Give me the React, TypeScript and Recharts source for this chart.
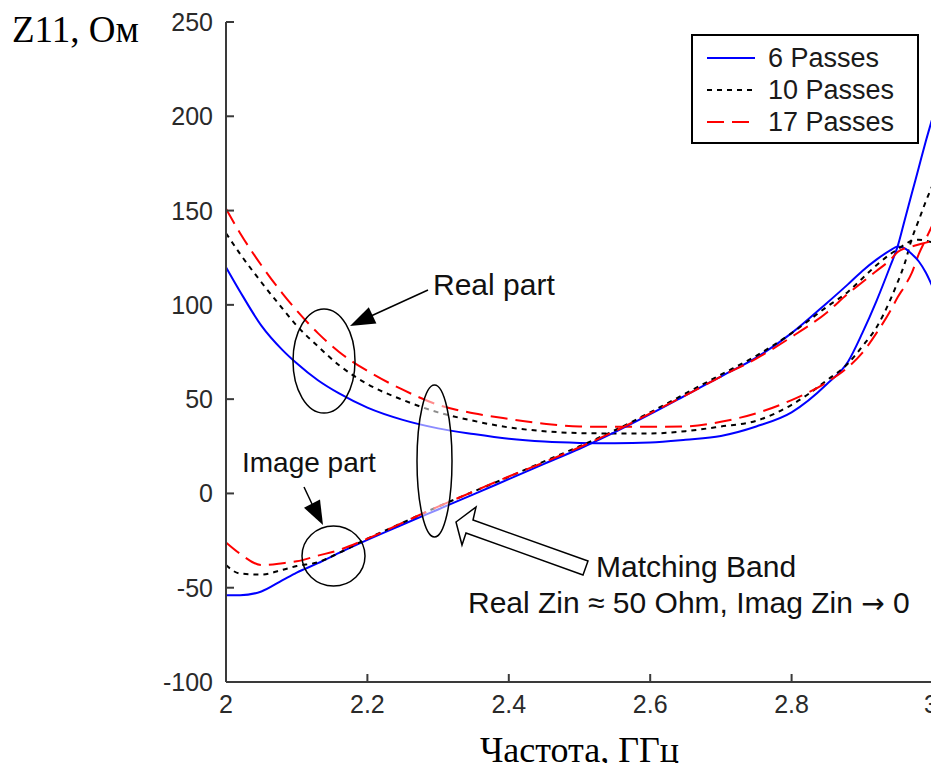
import React from 'react';
import { LineChart, Line, XAxis, YAxis, Legend } from 'recharts';

// frequency grid, GHz
const FREQ = [
  2.0, 2.02, 2.05, 2.08, 2.1, 2.13, 2.16, 2.2, 2.25, 2.3, 2.35, 2.4, 2.45, 2.5, 2.55, 2.6,
  2.65, 2.7, 2.75, 2.8, 2.85, 2.88, 2.9, 2.92, 2.94, 2.95, 2.96, 2.97, 2.98, 2.99, 3.0,
];

// real part of Z11
const REAL_6 = [
  120, 107, 89, 76, 69, 60, 53, 45.5, 39, 34.5, 31.5, 29, 27.5, 26.8, 26.6, 27,
  28.5, 30.5, 35.5, 43, 58, 70, 85, 102, 121, 131, 145, 159, 173, 187, 200,
];
const REAL_10 = [
  138, 127, 112, 98, 89, 78, 68, 58, 49.6, 43, 38.5, 35, 33, 32, 31.8, 31.8,
  33, 35.5, 38.5, 47, 60, 69, 78, 88, 103, 112, 122, 135, 145, 155, 164,
];
const REAL_17 = [
  151, 138, 121, 106, 97, 85, 75, 65, 55, 47, 42.5, 39.5, 37, 35.5, 35.3, 35.3,
  35.5, 38, 42.5, 49.5, 59, 67, 74.5, 85, 97, 104, 110, 117, 127, 135, 143,
];

// imaginary part of Z11
const IMAG_6 = [
  -54, -54, -52, -46, -42, -37, -31.5, -24.6, -16.5, -8.5, -0.5, 7.6, 15.7, 23.7, 32.5, 42,
  52, 62, 72, 85, 101, 111, 118, 124, 129, 131, 130, 127, 123, 117, 109,
];
const IMAG_10 = [
  -38, -42.5, -43, -40.5, -38.5, -36.5, -31.5, -24, -15.5, -7, 1, 8.8, 17, 25, 33.5, 43,
  53, 63, 73, 85, 99, 107, 114, 121, 127, 129.5, 132, 134, 134.5, 134, 133,
];
const IMAG_17 = [
  -26, -32, -38, -37, -36, -33, -30, -24, -15.5, -7, 1, 9, 16.5, 24.5, 33, 42.5,
  52, 62, 71.5, 83, 96, 106, 112, 118, 124, 128, 130, 131, 132, 133, 134,
];

const X_TICKS = [2, 2.2, 2.4, 2.6, 2.8, 3];
const Y_TICKS = [-100, -50, 0, 50, 100, 150, 200, 250];
const LEGEND_ORDER = ['6 Passes', '10 Passes', '17 Passes'];

const data = FREQ.map((f, i) => ({
  f,
  r6: REAL_6[i],
  r10: REAL_10[i],
  r17: REAL_17[i],
  i6: IMAG_6[i],
  i10: IMAG_10[i],
  i17: IMAG_17[i],
}));

const SANS = '"Liberation Sans", Arial, Helvetica, sans-serif';
const SERIF = '"Liberation Serif", "Times New Roman", serif';
const AXIS = '#3a3a3a';
const TICK_TEXT = '#2a2a2a';

const BLUE = '#0000ff';
const BLACK = '#000000';
const RED = '#ff0000';
const DASH_10 = '5 5';
const DASH_17 = '17 8';

const DASH_BY_NAME: Record<string, string | undefined> = {
  '6 Passes': undefined,
  '10 Passes': DASH_10,
  '17 Passes': DASH_17,
};

const YTick = ({ x, y, payload }: any) => (
  <g>
    <line x1={x + 13} x2={x + 21} y1={y} y2={y} stroke={AXIS} strokeWidth={2} />
    <text x={x} y={y + 9} textAnchor="end" fontSize={25} fontFamily={SANS} fill={TICK_TEXT}>
      {payload.value}
    </text>
  </g>
);

const XTick = ({ x, y, payload }: any) => {
  const last = payload.value === 3;
  return (
    <g>
      <line x1={x} x2={x} y1={y} y2={y - 8} stroke={AXIS} strokeWidth={2} />
      <text
        x={last ? x + 5 : x}
        y={y + 31}
        textAnchor={last ? 'end' : 'middle'}
        fontSize={25}
        fontFamily={SANS}
        fill={TICK_TEXT}
      >
        {String(payload.value)}
      </text>
    </g>
  );
};

const renderLegend = (props: any) => {
  const items = (props.payload || [])
    .filter((p: any) => p.type !== 'none')
    .sort((a: any, b: any) => LEGEND_ORDER.indexOf(a.value) - LEGEND_ORDER.indexOf(b.value));
  return (
    <svg width={228} height={110}>
      <rect x={1} y={1} width={226} height={108} fill="#fff" stroke="#000" strokeWidth={2} />
      {items.map((entry: any, i: number) => {
        const y = 24 + i * 32;
        return (
          <g key={entry.value}>
            <line
              x1={16}
              x2={64}
              y1={y}
              y2={y}
              stroke={entry.color}
              strokeWidth={2}
              strokeDasharray={DASH_BY_NAME[entry.value]}
            />
            <text x={77} y={y + 9} fontSize={27} fontFamily={SANS} fill="#1a1a1a">
              {entry.value}
            </text>
          </g>
        );
      })}
    </svg>
  );
};

const annText = { fontSize: 30, fontFamily: SANS, fill: '#111' };

function Annotations() {
  return (
    <svg
      width={939}
      height={771}
      style={{ position: 'absolute', left: 0, top: 0, pointerEvents: 'none' }}
    >
      {/* real part */}
      <ellipse cx={324} cy={361} rx={31} ry={52} fill="none" stroke="#000" strokeWidth={1.5} />
      <line x1={428} y1={290} x2={371} y2={316} stroke="#000" strokeWidth={1.5} />
      <polygon points="350,326 368.8,307.2 376.4,323.6" fill="#000" />
      <text x={433} y={295} {...annText}>Real part</text>

      {/* image part */}
      <ellipse cx={333.5} cy={556} rx={31.5} ry={30} fill="none" stroke="#000" strokeWidth={1.5} />
      <line x1={304} y1={487} x2={312} y2={504} stroke="#000" strokeWidth={1.5} />
      <polygon points="323,525 320,499.6 304,507.8" fill="#000" />
      <text x={242} y={472} {...annText} fontSize={28}>Image part</text>

      {/* matching band */}
      <ellipse
        cx={434.5}
        cy={461}
        rx={17.5}
        ry={76}
        fill="rgba(255,255,255,0.55)"
        stroke="#000"
        strokeWidth={1.5}
      />
      <polygon
        points="456,522 476,507 473,520 588,561 583,575 466,533 462,545"
        fill="#fff"
        stroke="#000"
        strokeWidth={1.5}
        strokeLinejoin="miter"
      />
      <text x={596} y={577} {...annText}>Matching Band</text>
      <text x={468} y={613} {...annText}>
        Real Zin ≈ 50 Ohm, Imag Zin <tspan fontFamily='"DejaVu Sans", sans-serif' fontSize={28}>→</tspan> 0
      </text>
    </svg>
  );
}

export default function App() {
  return (
    <div style={{ position: 'relative', width: 939, height: 771, margin: -8, background: '#fff' }}>
      <LineChart width={939} height={771} data={data} margin={{ top: 22, right: 6, bottom: 0, left: 0 }}>
        <XAxis
          dataKey="f"
          type="number"
          domain={[2, 3]}
          ticks={X_TICKS}
          height={89}
          tickSize={0}
          tickMargin={0}
          tickLine={false}
          tick={<XTick />}
          stroke={AXIS}
          strokeWidth={2}
          label={{
            value: 'Частота, ГГц',
            position: 'insideBottom',
            offset: 9,
            style: { fontSize: 36, fontFamily: SERIF, fill: '#000' },
          }}
        />
        <YAxis
          type="number"
          domain={[-100, 250]}
          ticks={Y_TICKS}
          width={226}
          tickSize={0}
          tickMargin={13}
          tickLine={false}
          tick={<YTick />}
          stroke={AXIS}
          strokeWidth={2}
          label={{
            content: ({ viewBox }: any) => (
              <text x={12} y={viewBox.y + 20} fontSize={37} fontFamily={SERIF} fill="#000">
                Z11, Ом
              </text>
            ),
          }}
        />
        <Legend
          layout="vertical"
          align="center"
          verticalAlign="middle"
          content={renderLegend}
          wrapperStyle={{ top: 34, left: 691, width: 228, height: 110 }}
        />
        <Line name="6 Passes" dataKey="r6" type="monotone" stroke={BLUE} strokeWidth={2} dot={false} activeDot={false} isAnimationActive={false} />
        <Line name="10 Passes" dataKey="r10" type="monotone" stroke={BLACK} strokeWidth={2} strokeDasharray={DASH_10} dot={false} activeDot={false} isAnimationActive={false} />
        <Line name="17 Passes" dataKey="r17" type="monotone" stroke={RED} strokeWidth={2} strokeDasharray={DASH_17} dot={false} activeDot={false} isAnimationActive={false} />
        <Line dataKey="i6" legendType="none" type="monotone" stroke={BLUE} strokeWidth={2} dot={false} activeDot={false} isAnimationActive={false} />
        <Line dataKey="i10" legendType="none" type="monotone" stroke={BLACK} strokeWidth={2} strokeDasharray={DASH_10} dot={false} activeDot={false} isAnimationActive={false} />
        <Line dataKey="i17" legendType="none" type="monotone" stroke={RED} strokeWidth={2} strokeDasharray={DASH_17} dot={false} activeDot={false} isAnimationActive={false} />
      </LineChart>
      <Annotations />
    </div>
  );
}
